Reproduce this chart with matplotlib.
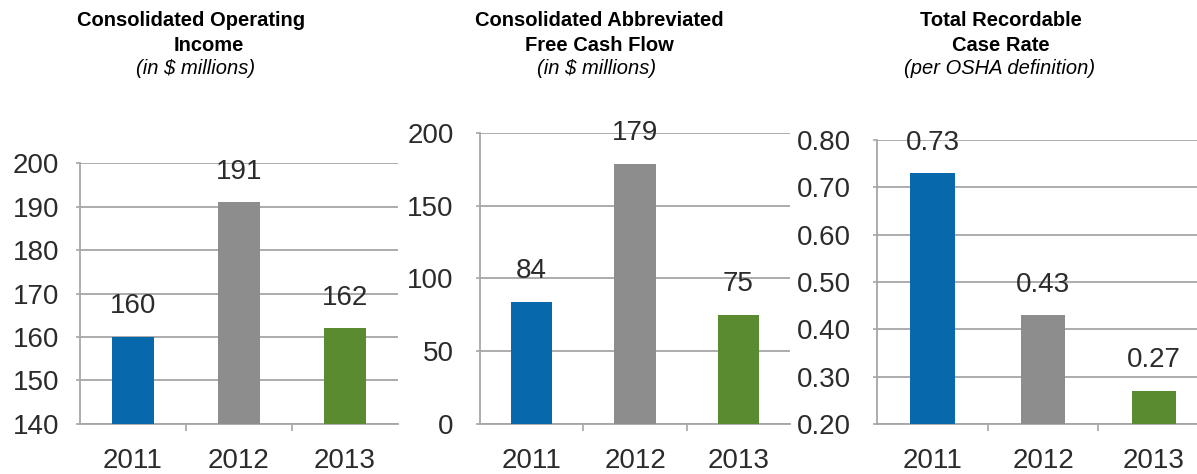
import matplotlib
matplotlib.use('Agg')
import matplotlib.pyplot as plt
from matplotlib.ticker import FixedLocator

plt.rcParams['font.family'] = ['Liberation Sans', 'DejaVu Sans']

# data
years = ['2011', '2012', '2013']
op_income = [160, 191, 162]
free_cash = [84, 179, 75]
case_rate = [0.73, 0.43, 0.27]

bar_colors = ['#0868ac', '#8d8d8d', '#5a8b30']
grid_col = '#a6a6a6'
text_col = '#2b2b2b'

# title lines: (bold line 1, bold line 2, italic line)
titles = [('Consolidated Operating', 'Income', '(in $ millions)'),
          ('Consolidated Abbreviated', 'Free Cash Flow', '(in $ millions)'),
          ('Total Recordable', 'Case Rate', '(per OSHA definition)')]
# x centers (pixels) of each title line
title_xs = [(191, 209, 196), (599, 599, 597), (1001, 1001, 1000)]

fig = plt.figure(figsize=(11.97, 4.74), dpi=100)

# axes rectangles [left, bottom, width, height] in figure fractions
rects = [[0.0668, 0.1055, 0.2657, 0.5506],
         [0.4010, 0.1055, 0.2590, 0.6139],
         [0.7327, 0.1055, 0.2774, 0.5990]]
ylims = [(140, 200), (0, 200), (0.20, 0.80)]
yticks = [[140, 150, 160, 170, 180, 190, 200],
          [0, 50, 100, 150, 200],
          [0.2, 0.3, 0.4, 0.5, 0.6, 0.7, 0.8]]
fmts = ['{:.0f}', '{:.0f}', '{:.2f}']
ypads = [12, 16, 16]
series = [op_income, free_cash, case_rate]

for i in range(3):
    ax = fig.add_axes(rects[i])
    x = range(len(years))
    ax.bar(x, series[i], width=0.4, color=bar_colors, zorder=3)
    ax.set_xlim(-0.5, 2.5)
    ax.set_ylim(*ylims[i])
    ax.set_yticks(yticks[i])
    ax.set_yticklabels([fmts[i].format(v) for v in yticks[i]])
    ax.set_xticks(list(x))
    ax.set_xticklabels(years)
    ax.xaxis.set_minor_locator(FixedLocator([0.5, 1.5]))
    ax.tick_params(axis='x', which='major', length=0, pad=17,
                   labelsize=20, labelcolor=text_col)
    ax.tick_params(axis='x', which='minor', length=5, width=1.2,
                   color=grid_col, direction='out')
    ax.tick_params(axis='y', length=3, width=1.2, color=grid_col,
                   pad=ypads[i], labelsize=20, labelcolor=text_col)
    ax.grid(axis='y', color=grid_col, linewidth=1.3, zorder=0)
    for s in ['top', 'right']:
        ax.spines[s].set_visible(False)
    for s in ['left', 'bottom']:
        ax.spines[s].set_color(grid_col)
        ax.spines[s].set_linewidth(1.3)
    ax.set_axisbelow(True)

    for xi, v in zip(x, series[i]):
        ax.annotate(fmts[i].format(v), (xi, v), xytext=(0, 22),
                    textcoords='offset points', ha='center', va='center',
                    fontsize=20, color=text_col)

    # titles, one line at a time
    t1, t2, t3 = titles[i]
    x1, x2, x3 = title_xs[i]
    fig.text(x1 / 1197, 1 - 21 / 474, t1, ha='center', va='center',
             fontsize=14.5, fontweight='bold')
    fig.text(x2 / 1197, 1 - 45 / 474, t2, ha='center', va='center',
             fontsize=14.5, fontweight='bold')
    fig.text(x3 / 1197, 1 - 68 / 474, t3, ha='center', va='center',
             fontsize=14.5, fontstyle='italic')

fig.savefig('out.png', dpi=100)
